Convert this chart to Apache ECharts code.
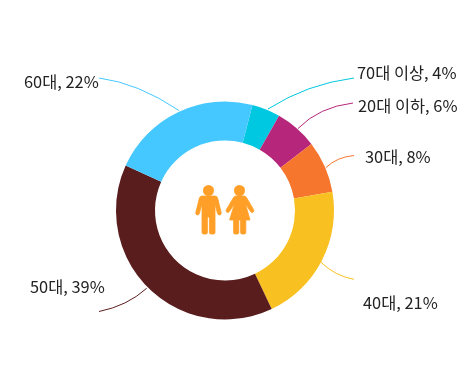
<!DOCTYPE html>
<html><head><meta charset="utf-8">
<style>html,body{margin:0;padding:0;background:#fff}#c{width:458px;height:389px}</style>
<script src="https://cdn.jsdelivr.net/npm/echarts@6/dist/echarts.min.js"></script>
</head><body><div id="c"></div>
<script>
const categories = ['70대 이상','20대 이하','30대','40대','50대','60대'];
const sliceValues = [4.2,6.3,7.7,20.7,38.8,22.3];
const colors = ['#00c8e1','#b6267a','#f6762e','#f8c020','#5a1d1e','#45c8ff'];
const labelPos = [[357,73],[358,106],[365,157],[363,303],[30,287],[24,81.5]];
const leaderLines = [
  [[268,109],[307,84],[354,78]],
  [[298,128.5],[319,107],[353,103]],
  [[326,167.5],[337,157],[354,155.5]],
  [[320.7,262],[335,276],[354,279.3]],
  [[146.7,288.3],[127,306],[99,311.5]],
  [[179,110.5],[138,83],[99,78]]
];
const man = 'M202 196L215 196Q217 196 217.6 198L221.2 212.5Q221.5 214.5 219.8 215Q218 215.2 217.5 213.5L215 204L215 232.5Q215 234 213.5 234L211 234Q209.4 234 209.4 232.5L209.4 217L207.4 217L207.4 232.5Q207.4 234 206 234L203.5 234Q202 234 202 232.5L202 204L199.3 213.5Q198.8 215.2 197 215Q195.5 214.5 195.8 212.5L199.4 198Q200 196 202 196Z';
const woman = 'M236 196L244 196Q245.5 196 246.5 197.5L253.5 209.5Q254.5 211.3 253 212.3Q251.5 213 250.5 211.5L245.5 204L250 220L245.8 220L245.8 232.5Q245.8 234 244.3 234L242 234Q240.6 234 240.6 232.5L240.6 220L238.8 220L238.8 232.5Q238.8 234 237.3 234L235 234Q233.6 234 233.6 232.5L233.6 220L229.6 220L234.4 204L229.4 211.5Q228.4 213 226.9 212.3Q225.4 211.3 226.4 209.5L233.5 197.5Q234.5 196 236 196Z';
echarts.graphic.registerShape('manIcon', echarts.graphic.extendPath(man, {}));
echarts.graphic.registerShape('womanIcon', echarts.graphic.extendPath(woman, {}));
const chart = echarts.init(document.getElementById('c'), null, {renderer:'canvas'});
chart.setOption({
  animation:false,
  graphic:[
    {type:'circle',shape:{cx:208.5,cy:190.5,r:5.5},style:{fill:'#ff9f27'}},
    {type:'circle',shape:{cx:239.5,cy:190.5,r:5.5},style:{fill:'#ff9f27'}},
    {type:'manIcon',style:{fill:'#ff9f27',stroke:'#ff9f27',lineWidth:0.8}},
    {type:'womanIcon',style:{fill:'#ff9f27',stroke:'#ff9f27',lineWidth:0.8}}
  ].concat(leaderLines.map((p,i)=>({
    type:'bezierCurve',
    shape:{x1:p[0][0],y1:p[0][1],cpx1:p[1][0],cpy1:p[1][1],x2:p[2][0],y2:p[2][1]},
    style:{stroke:colors[i],fill:null,lineWidth:1}
  }))),
  series:[{
    type:'pie',
    center:[225,210.5],
    radius:[70,109],
    startAngle:75.4,
    clockwise:true,
    data:categories.map((n,i)=>({name:n,value:sliceValues[i],itemStyle:{color:colors[i]}})),
    label:{
      show:true,
      formatter:p=>p.name+', '+Math.round(p.value)+'%',
      fontFamily:'"Noto Sans CJK KR","Noto Sans",sans-serif',
      fontSize:16.4,
      color:'#222'
    },
    labelLine:{show:false},
    labelLayout:function(p){
      const i=p.dataIndex;
      return {x:labelPos[i][0],y:labelPos[i][1],align:'left',verticalAlign:'middle'};
    },
    emphasis:{disabled:true}
  }]
});
</script></body></html>
